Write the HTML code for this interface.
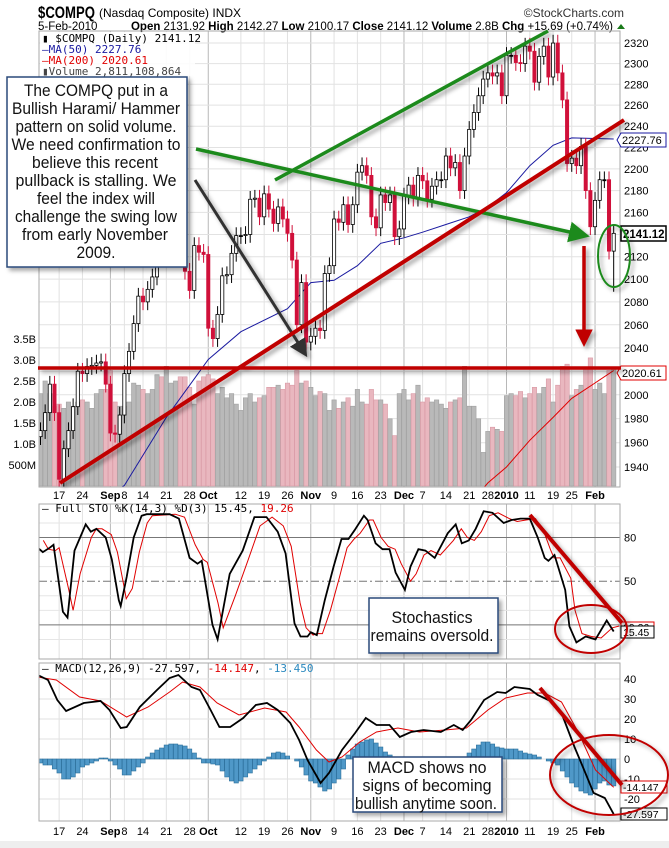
<!DOCTYPE html>
<html><head><meta charset="utf-8">
<style>
html,body{margin:0;padding:0;background:#fff;}
svg{display:block;font-family:"Liberation Sans",Arial,sans-serif;}
.ax{font-size:11px;fill:#000;}
.mono{font-family:"DejaVu Sans Mono","Liberation Mono",monospace;font-size:11px;}
.big{font-size:17px;fill:#111;}
</style></head>
<body>
<svg id="chart" width="669" height="848" viewBox="0 0 669 848" xmlns="http://www.w3.org/2000/svg">
<defs>
<clipPath id="cp"><rect x="39" y="31" width="581" height="456"/></clipPath>
<clipPath id="cs"><rect x="39" y="504" width="581" height="155"/></clipPath>
<clipPath id="cm"><rect x="39" y="663" width="581" height="158"/></clipPath>
<filter id="sh" x="-20%" y="-20%" width="150%" height="150%"><feDropShadow dx="3" dy="3" stdDeviation="2" flood-color="#000" flood-opacity="0.35"/></filter>
<marker id="ag" markerWidth="6" markerHeight="6" refX="4" refY="3" orient="auto" markerUnits="strokeWidth"><path d="M0,0 L6,3 L0,6 Z" fill="#1e8a1e"/></marker>
<marker id="ak" markerWidth="6" markerHeight="6" refX="4" refY="3" orient="auto" markerUnits="strokeWidth"><path d="M0,0 L6,3 L0,6 Z" fill="#333"/></marker>
<marker id="ar" markerWidth="5" markerHeight="5" refX="3" refY="2.5" orient="auto" markerUnits="strokeWidth"><path d="M0,0 L5,2.5 L0,5 Z" fill="#c00000"/></marker>
</defs>
<rect x="0" y="0" width="669" height="848" fill="#fff"/>
<g>
<text x="38" y="18" font-size="17" font-weight="bold" textLength="57" lengthAdjust="spacingAndGlyphs">$COMPQ</text>
<text x="99" y="17" font-size="12">(Nasdaq Composite) INDX</text>
<text x="624" y="17" font-size="12" text-anchor="end" fill="#333">©StockCharts.com</text>
<text x="38" y="30" font-size="11.5">5-Feb-2010</text>
<text x="131" y="30" font-size="11.5" textLength="482"><tspan font-weight="bold">Open</tspan> 2131.92 <tspan font-weight="bold">High</tspan> 2142.27 <tspan font-weight="bold">Low</tspan> 2100.17 <tspan font-weight="bold">Close</tspan> 2141.12 <tspan font-weight="bold">Volume</tspan> 2.8B <tspan font-weight="bold">Chg</tspan> +15.69 (+0.74%)</text>
<path d="M617,29 L621,24 L625,29 Z" fill="#1a7a1a"/>
</g>
<g id="grid"></g>
<g id="vol" clip-path="url(#cp)"></g>
<g id="price" clip-path="url(#cp)"></g>
<g id="sto" clip-path="url(#cs)"></g>
<g id="macd" clip-path="url(#cm)"></g>
<g id="axes"></g>
<g id="notes"></g>
</svg>
<script>
// ---- data ----
const closes = [1970,1985,2009,1985,1930,1955,1970,1990,2020,2018,2024,2025,2027,2028,2009,
1968,1967,1983,2018,2037,2061,2085,2080,2091,2102,2133,2126,2132,2139,2146,2131,2107,2090,2130,2124,2122,
2057,2048,2069,2103,2104,2123,2139,2139,2140,2172,2173,2156,2177,2163,2150,2165,2154,2141,2117,2060,2097,2045,
2050,2057,2055,2105,2112,2154,2151,2167,2149,2167,2197,2203,2194,2156,2146,2176,2169,2176,2138,2145,
2175,2185,2173,2194,2189,2172,2184,2190,2190,2212,2201,2206,2180,2212,2237,2253,2269,2285,2291,2288,2291,2269,
2308,2308,2301,2300,2317,2312,2282,2307,2317,2287,2320,2291,2265,2205,2210,2203,2221,2180,2147,
2171,2190,2190,2125,2141];
const volumes = [2.2,2.5,2.2,1.9,1.95,1.85,2.0,1.9,2.0,2.05,2.0,1.85,2.2,2.3,2.3,
2.75,2.0,1.9,1.9,2.0,2.45,2.4,2.3,2.2,2.3,2.65,2.6,2.85,2.45,2.5,2.6,2.6,2.35,1.95,2.5,2.6,
2.65,2.55,2.2,2.35,2.1,2.2,1.95,1.8,2.1,2.2,2.0,2.1,2.15,2.35,2.35,2.4,2.3,2.45,2.4,2.75,2.45,2.5,
2.35,2.15,2.25,2.2,1.8,2.05,1.85,2.0,2.1,1.9,2.3,2.0,1.95,2.3,2.05,2.05,1.95,1.6,1.2,2.2,
2.3,2.05,2.2,2.4,2.0,2.1,2.0,2.05,1.95,1.85,2.0,2.05,2.1,2.85,1.9,1.9,1.6,0.8,1.3,1.4,1.35,1.3,
2.15,2.2,2.15,2.25,2.1,2.2,2.35,2.2,2.35,2.55,2.0,2.4,2.85,2.9,2.15,2.3,2.4,2.8,3.05,
2.3,2.45,2.2,2.75,2.8];
const ma50Days = [14,18,27,36,43,53,58,63,68,73,78,82,87,92,96,100,105,110,114,123];
const ma50Vals = [1915,1925,1981,2030,2054,2074,2097,2099,2112,2132,2137,2142,2149,2156,2165,2178,2203,2222,2229,2228];
const ma200Days = [94,96,100,105,110,114,119,123];
const ma200Vals = [1918,1927,1940,1962,1981,1997,2010,2020.61];
const stoDays = [-0.6,0.5,2,2.8,4.8,5.8,7.3,9.7,10.8,12,14,15.3,16.8,17.2,18.5,20,21.7,22.8,27.7,29.7,32,33.7,34.6,36.9,38,40.6,43.4,45.9,48.5,50.9,52.6,54.5,55.8,57.3,58,59.3,61,62.9,64.6,66.1,67.4,69.4,70.2,71.9,73.4,74.9,76.2,78.2,79.4,81.1,82.6,84.6,87.4,89.1,90.4,91.9,93.4,95.1,97,99.4,101.1,103,105,106.7,108.2,109,110.3,112.6,113.5,115,117,119.1,121.5,123];
const stoK = [73,70,73,75,29,25,71,89,84,86,80,65,37,33,53,80,95,96,96,93,66,62,64,20,10,55,71,94,94,84,69,21,12,12,15,13,37,60,79,79,85,95,92,76,72,72,56,44,60,72,71,66,83,89,76,78,86,98,97,90,92,93,93,80,66,64,68,44,19,8,12,10,23,15.45];
const stoD = [78,72,71,73,45,30,55,80,86,86,82,70,45,38,45,70,90,95,96,94,75,65,63,35,18,40,65,88,94,88,74,35,18,13,14,14,30,52,73,79,83,92,92,80,74,72,62,50,55,68,71,68,78,86,80,78,84,95,97,93,91,92,93,85,72,66,66,52,30,14,12,11,18,19.26];
const macdDays = [-0.6,1.6,3.6,5.5,9.3,12.9,14.8,17.2,18.5,21.3,25,27.7,29.6,32.4,34.2,36.5,38.4,40.7,43.5,46.2,48.6,50.9,53.6,55.5,57.3,60.1,61.9,64.7,67.5,69.8,72.1,74.9,77.1,79.5,82.2,85.9,88.7,90.6,92.4,95.2,98,99.8,101.7,105,106.7,109.9,111.8,114.6,116.4,118.7,121.1,123];
const macdVals = [42,39.5,29.5,24,28,29,24.5,15.5,16,26,34.5,40.5,42,36,34.5,24.5,16,16,20.5,27,28,24.5,18,9.5,-0.5,-12,-7,4.5,13,20.5,17,17,11,13.5,14.5,13.5,17,14.5,19.5,29.5,33.5,33,36,35,32,28.5,23,6,-4,-17,-19.5,-27.597];
const sigDays = [-0.6,3.4,8.4,12.9,18.5,23.1,27.7,30.5,34.2,37.9,42.6,48.1,52.7,55.5,59.2,61.9,64.7,68.5,72.1,76.7,81.3,86.8,91.4,96,99.8,104.5,108.2,111.8,115.5,119.1,123];
const sigVals = [41,39.5,31,29,21,26,33.5,38.5,36,28,22,25.5,23.5,16,4.5,-1.5,1,8.5,13.5,15.5,13.5,14.5,15.5,24.5,30.5,33,33,28.5,13,-5.5,-14.147];
const histVals = [-2,-3,-3,-5,-7,-10,-10,-9,-7,-4,-3,-2,-1,0.5,0.5,
-1,-3,-5,-8,-8,-6,-4,-2,1,3,4.5,5.5,7,7.5,7.5,7,6.5,5,3,0.5,-2,
-2,-2.5,-3,-6,-9,-11,-12,-11,-9,-7,-5,-3,-1,1,3,3.5,3,1.5,0,-1,-4,-8,
-11,-12,-14,-16,-15,-12,-10,-5,2,5,7.5,8.5,9.5,10,8,6,3.5,2,0.5,-0.5,
-1,-1,-0.5,0,-0.5,-1,-0.5,0,0.5,1,1,0.5,-0.5,0.5,3,5,7,8.5,8.5,7.5,6,5.5,
5,5,5,4,3,2.5,2,1,0,-1,-2,-3,-6,-9,-12,-14,-16,-17,-18,
-15,-12,-11,-13,-13.45];
const tickDays = [4,9,15,18,22,27,32,36,43,48,53,58,63,68,73,78,82,87,92,96,100,105,110,114,119];
const tickLabels = ["17","24","Sep","8","14","21","28","Oct","12","19","26","Nov","9","16","23","Dec","7","14","21","28","2010","11","19","25","Feb"];
const monthTicks = [15,36,58,78,100,119];
const priceTicks = [2320,2300,2280,2260,2240,2220,2200,2180,2160,2140,2120,2100,2080,2060,2040,2020,2000,1980,1960,1940];
const volTicks = [0.5,1.0,1.5,2.0,2.5,3.0,3.5];
const volTickLabels = ["500M","1.0B","1.5B","2.0B","2.5B","3.0B","3.5B"];
const macdTicks = [40,30,20,10,0,-10,-20];

// ---- scales ----
const X = d => 40.5 + d*4.66;
const YP = p => 467 - 2370*Math.log(p/1940);
const YV = v => 486 - v*42;
const YS = s => 654 - s*1.456;
const YM = m => 759 - m*2;
const NS = "http://www.w3.org/2000/svg";
function mk(parent, tag, attrs, text){
  const e = document.createElementNS(NS, tag);
  for (const k in attrs) e.setAttribute(k, attrs[k]);
  if (text !== undefined) e.textContent = text;
  document.getElementById(parent).appendChild(e);
  return e;
}
const pts = (ds, vs, fy) => ds.map((d,i)=>X(d).toFixed(1)+","+fy(vs[i]).toFixed(1)).join(" ");

// ---- grid & frames ----
const panels = [[39,31,581,456],[39,504,581,155],[39,663,581,158]];
panels.forEach((p,pi)=>{
  tickDays.forEach((d,i)=>{
    const ln = mk("grid","line",{x1:X(d),x2:X(d),y1:p[1],y2:p[1]+p[3],stroke: monthTicks.includes(d)?"#b8b8b8":"#e2e2e2","stroke-width":1});
    
    
  });
});
priceTicks.forEach(t=>{
  const ln = mk("grid","line",{x1:39,x2:620,y1:YP(t),y2:YP(t),stroke:"#e2e2e2"});
  
  
  const tx = mk("axes","text",{x:624,y:YP(t)+4,class:"ax"},String(t));
  
  
});
[10,20,30,40,60,70,90].forEach(s=>{
  const ln = mk("grid","line",{x1:39,x2:620,y1:YS(s),y2:YS(s),stroke:"#e6e6e6"});
  
  
});
[80,20].forEach(s=>{
  const ln = mk("grid","line",{x1:39,x2:620,y1:YS(s),y2:YS(s),stroke:"#777"});
  
  
});
{
  const ln = mk("grid","line",{x1:39,x2:620,y1:YS(50),y2:YS(50),stroke:"#777","stroke-dasharray":"8,3,2,3"});
  
  
}
[[80,"80"],[50,"50"]].forEach(a=>{
  const tx = mk("axes","text",{x:624,y:YS(a[0])+4,class:"ax"},a[1]);
  
  
});
macdTicks.forEach(t=>{
  const ln = mk("grid","line",{x1:39,x2:620,y1:YM(t),y2:YM(t),stroke:"#e2e2e2"});
  
  
  const tx = mk("axes","text",{x:624,y:YM(t)+4,class:"ax"},String(t));
  
  
});
volTicks.forEach((v,i)=>{
  const tx = mk("axes","text",{x:36,y:YV(v)+4,class:"ax","text-anchor":"end"},volTickLabels[i]);
  
  
});
[495,831].forEach(yy=>{
  tickDays.forEach((d,i)=>{
    const isM = monthTicks.includes(d);
    const tx = mk("axes","text",{x:X(d),y:yy+4,class:"ax","text-anchor":"middle","font-weight":isM?"bold":"normal","font-size":isM?"12":"11"},tickLabels[i]);
    
    
  });
});
panels.forEach(p=>{
  const r = mk("axes","rect",{x:p[0],y:p[1],width:p[2],height:p[3],fill:"none",stroke:"#aaa"});
  
  
});
{
  const r = mk("axes","rect",{x:0,y:841,width:669,height:7,fill:"#eee"});
  
  
}

// ---- volume ----
volumes.forEach((v,i)=>{
  const down = i>0 && closes[i]<closes[i-1];
  const r = mk("vol","rect",{x:X(i)-2.2,y:YV(v),width:4.4,height:486-YV(v),fill:down?"#e9b7bf":"#b9b9b9",stroke:down?"#d99aa5":"#a0a0a0","stroke-width":0.6});
  
  
});

// ---- moving averages ----
{
  const l = mk("price","polyline",{points:pts(ma50Days,ma50Vals,YP),fill:"none",stroke:"#1a1aa0","stroke-width":1});
  
  
  const l2 = mk("price","polyline",{points:pts(ma200Days,ma200Vals,YP),fill:"none",stroke:"#e00000","stroke-width":1});
  
  
}

// ---- candles ----
closes.forEach((c,i)=>{
  const o = i>0 ? closes[i-1] : c-5;
  const hi = Math.max(o,c)*1.0035, lo = Math.min(o,c)*(i===closes.length-1?0.983:0.9965);
  const down = i>0 && c<closes[i-1];
  const col = down ? "#d0103a" : "#000";
  const w = mk("price","line",{x1:X(i),x2:X(i),y1:YP(hi),y2:YP(lo),stroke:col,"stroke-width":1});
  
  
  const top = YP(Math.max(o,c)), bot = YP(Math.min(o,c));
  const hollow = c>o;
  const b = mk("price","rect",{x:X(i)-1.6,y:top,width:3.2,height:Math.max(1,bot-top),fill:hollow?"#fff":col,stroke:col,"stroke-width":0.8});
  
  
});

// ---- stochastics ----
{
  const d = mk("sto","polyline",{points:pts(stoDays.map(v=>v+1.2),stoD,YS),fill:"none",stroke:"#e00000","stroke-width":1});
  
  
  const k = mk("sto","polyline",{points:pts(stoDays,stoK,YS),fill:"none",stroke:"#000","stroke-width":1.8});
  
  
}

// ---- MACD ----
histVals.forEach((h,i)=>{
  const y0 = YM(0), y1 = YM(h);
  const r = mk("macd","rect",{x:X(i)-2.2,y:Math.min(y0,y1),width:4.4,height:Math.abs(y1-y0),fill:"#4f98c8",stroke:"#2b6f9c","stroke-width":0.6});
  
  
});
{
  const s = mk("macd","polyline",{points:pts(sigDays,sigVals,YM),fill:"none",stroke:"#e00000","stroke-width":1});
  
  
  const m = mk("macd","polyline",{points:pts(macdDays,macdVals,YM),fill:"none",stroke:"#000","stroke-width":1.8});
  
  
}
</script>
<script>
// ---- static overlays (legends, value tags, annotations) ----
const g = document.getElementById("notes");
g.innerHTML = `
<rect x="40" y="32" width="155" height="44" fill="#fff" opacity="0.85"/>
<text x="42" y="42" class="mono">&#9646; $COMPQ (Daily) 2141.12</text>
<text x="42" y="53" class="mono" font-size="10" fill="#1a1aa0">—MA(50) 2227.76</text>
<text x="42" y="64" class="mono" font-size="10" fill="#e00000">—MA(200) 2020.61</text>
<text x="42" y="75" class="mono" font-size="10" fill="#444">▮Volume 2,811,108,864</text>
<text x="42" y="512" class="mono">— Full STO %K(14,3) %D(3) 15.45, <tspan fill="#e00000">19.26</tspan></text>
<text x="42" y="672" class="mono">— MACD(12,26,9) -27.597, <tspan fill="#e00000">-14.147</tspan>, <tspan fill="#2b8ac0">-13.450</tspan></text>

<g>
<rect x="621" y="226" width="45" height="15" fill="#fff" stroke="#000" stroke-width="1.5"/>
<text x="623" y="238" font-size="11.5" font-weight="bold">2141.12</text>
<path d="M617,140 L621,133 L666,133 L666,147 L621,147 Z" fill="#fff" stroke="#1a1aa0"/>
<text x="622" y="144" font-size="11" fill="#000">2227.76</text>
<path d="M617,373 L621,366 L666,366 L666,380 L621,380 Z" fill="#fff" stroke="#e00000"/>
<text x="622" y="377" font-size="11" fill="#000">2020.61</text>
<rect x="621" y="622" width="33" height="12" fill="#fff" stroke="#e00000"/>
<text x="623" y="631" font-size="10.5">19.26</text>
<rect x="621" y="626" width="33" height="12" fill="#fff" stroke="#000"/>
<text x="623" y="636" font-size="10.5">15.45</text>
<rect x="621" y="781" width="46" height="12" fill="#fff" stroke="#e00000"/>
<text x="623" y="791" font-size="10.5">-14.147</text>
<rect x="621" y="808" width="46" height="12" fill="#fff" stroke="#000"/>
<text x="623" y="818" font-size="10.5">-27.597</text>
</g>

<g filter="url(#sh)">
<line x1="275" y1="180" x2="548" y2="31" stroke="#1e8a1e" stroke-width="3.5"/>
<line x1="196" y1="149" x2="583" y2="235" stroke="#1e8a1e" stroke-width="3.5" marker-end="url(#ag)"/>
<line x1="195" y1="180" x2="304" y2="352" stroke="#333" stroke-width="3" marker-end="url(#ak)"/>
<line x1="60" y1="483" x2="624" y2="120" stroke="#c00000" stroke-width="4"/>
<line x1="38" y1="368" x2="621" y2="368" stroke="#c00000" stroke-width="3.5"/>
<line x1="584" y1="246" x2="584" y2="340" stroke="#c00000" stroke-width="3.5" marker-end="url(#ar)"/>
<ellipse cx="614" cy="256" rx="16" ry="31" fill="none" stroke="#1e8a1e" stroke-width="2"/>
<line x1="530" y1="515" x2="622" y2="623" stroke="#c00000" stroke-width="4"/>
<ellipse cx="591" cy="629" rx="36" ry="24" fill="none" stroke="#c00000" stroke-width="2"/>
<line x1="540" y1="688" x2="622" y2="785" stroke="#c00000" stroke-width="4"/>
<ellipse cx="609" cy="775" rx="59" ry="40" fill="none" stroke="#c00000" stroke-width="2"/>
</g>

<g>
<rect x="7" y="77" width="180" height="190" fill="#fff" stroke="#2a4a7a" stroke-width="1.5" filter="url(#sh)"/>
<g class="big" text-anchor="middle" font-size="17">
<text x="96" y="96" textLength="144" lengthAdjust="spacingAndGlyphs">The COMPQ put in a</text>
<text x="96" y="114" textLength="168" lengthAdjust="spacingAndGlyphs">Bullish Harami/ Hammer</text>
<text x="96" y="132" textLength="161" lengthAdjust="spacingAndGlyphs">pattern on solid volume.</text>
<text x="96" y="150" textLength="169" lengthAdjust="spacingAndGlyphs">We need confirmation to</text>
<text x="95" y="168" textLength="126" lengthAdjust="spacingAndGlyphs">believe this recent</text>
<text x="96" y="186" textLength="161" lengthAdjust="spacingAndGlyphs">pullback is stalling.  We</text>
<text x="96" y="204" textLength="118" lengthAdjust="spacingAndGlyphs">feel the index will</text>
<text x="96" y="222" textLength="162" lengthAdjust="spacingAndGlyphs">challenge the swing low</text>
<text x="95" y="240" textLength="146" lengthAdjust="spacingAndGlyphs">from early November</text>
<text x="96" y="258" textLength="39" lengthAdjust="spacingAndGlyphs">2009.</text>
</g></g>

<g>
<rect x="369" y="598" width="129" height="55" fill="#fff" stroke="#2a4a7a" stroke-width="1.5" filter="url(#sh)"/>
<text x="432" y="623" class="big" text-anchor="middle" textLength="81" lengthAdjust="spacingAndGlyphs">Stochastics</text>
<text x="432" y="641" class="big" text-anchor="middle" textLength="123" lengthAdjust="spacingAndGlyphs">remains oversold.</text>
</g>
<g>
<rect x="353" y="757" width="149" height="55" fill="#fff" stroke="#2a4a7a" stroke-width="1.5" filter="url(#sh)"/>
<text x="427" y="773" class="big" text-anchor="middle" textLength="119" lengthAdjust="spacingAndGlyphs">MACD shows no</text>
<text x="427" y="791" class="big" text-anchor="middle" textLength="129" lengthAdjust="spacingAndGlyphs">signs of becoming</text>
<text x="426" y="809" class="big" text-anchor="middle" textLength="142" lengthAdjust="spacingAndGlyphs">bullish anytime soon.</text>
</g>`;
</script>
</body></html>
